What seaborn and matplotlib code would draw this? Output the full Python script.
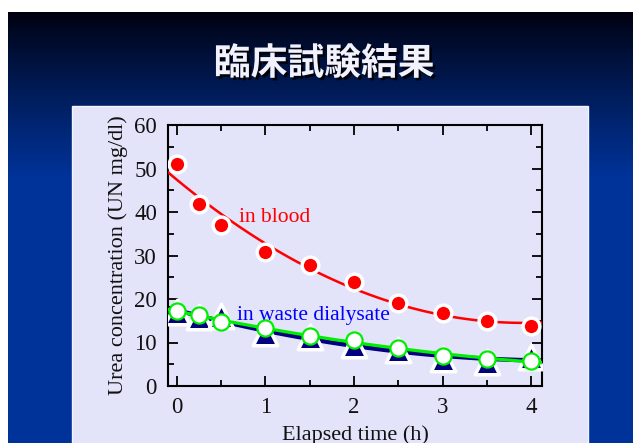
import numpy as np
import matplotlib
matplotlib.use('Agg')
import matplotlib.pyplot as plt
import matplotlib.patheffects as pe
from matplotlib.patches import Rectangle, Arc
from matplotlib.ticker import MultipleLocator
import seaborn as sns

# values
time_h = [0, 0.25, 0.5, 1, 1.5, 2, 2.5, 3, 3.5, 4]
urea_blood = [51.0, 41.9, 36.9, 30.8, 27.9, 23.9, 19.0, 16.8, 14.9, 13.8]
urea_waste_tri = [17.0, 15.8, 16.0, 12.2, 11.2, 9.4, 8.2, 6.3, 5.6, 6.6]
urea_waste_circ = [17.2, 16.4, 14.7, 13.4, 11.5, 10.5, 8.8, 6.8, 6.3, 5.8]
x_ticks = [0, 1, 2, 3, 4]
y_ticks = [0, 10, 20, 30, 40, 50, 60]

sns.set_style('ticks')
plt.rcParams['font.family'] = ['Liberation Serif', 'DejaVu Serif']

W, H = 633, 443
fig = plt.figure(figsize=(W / 100, H / 100), dpi=100)

# slide background: black -> blue gradient, white margin top/left
bg = fig.add_axes([0, 0, 1, 1], zorder=-5)
rows = np.arange(H, dtype=float)
t = np.clip((rows - 12) / 165.0, 0, 1) ** 0.85
top = np.array([0.0, 0.0, 0.05])
bot = np.array([0.0, 0.2, 0.6])
col = top[None, :] * (1 - t[:, None]) + bot[None, :] * t[:, None]
img = np.repeat(col[:, None, :], W, axis=1)
img[:12, :, :] = 1.0
img[:, :8, :] = 1.0
bg.imshow(img, extent=[0, W, H, 0], aspect='auto', interpolation='bilinear')
bg.add_patch(Arc((700, 420), 260, 150, angle=-15, theta1=120, theta2=200,
                 color='#0a2c85', lw=9, alpha=0.8))
bg.add_patch(Rectangle((72, 106), 516, 340, facecolor='#e3e3f9',
                       edgecolor='#f4f4ff', lw=1))
bg.set_xlim(0, W)
bg.set_ylim(H, 0)
bg.axis('off')

fig.text(324 / W, 1 - 64 / H, '臨床試験結果', fontsize=26.5, fontweight='bold',
         color='#f2f2ff', ha='center', va='center',
         family=['Noto Sans CJK JP', 'DejaVu Sans'],
         path_effects=[pe.withSimplePatchShadow(offset=(1.8, -1.8),
                                                shadow_rgbFace='black', alpha=0.9)])

ax = fig.add_axes([168 / W, 1 - 386 / H, (542 - 168) / W, (386 - 125) / H])
ax.set_facecolor('none')
ax.set_xlim(-0.1, 4.12)
ax.set_ylim(0, 60)

# fitted curves
sns.regplot(x=time_h, y=urea_waste_tri, order=2, ci=None, truncate=False,
            scatter=False, color='#000080', line_kws=dict(lw=3.2, zorder=2), ax=ax)
sns.regplot(x=time_h, y=urea_waste_circ, order=2, ci=None, truncate=False,
            scatter=False, color='#00ee00', line_kws=dict(lw=2.3, zorder=4), ax=ax)
sns.regplot(x=time_h, y=urea_blood, order=2, ci=None, truncate=False,
            scatter=False, color='#ff0000', line_kws=dict(lw=1.8, zorder=6), ax=ax)

# measured points
sns.scatterplot(x=time_h, y=urea_waste_tri, marker='^', s=310, color='#000080',
                edgecolor='white', linewidth=2.5, zorder=3, ax=ax, legend=False)
sns.scatterplot(x=time_h, y=urea_waste_circ, marker='o', s=135, color='white',
                edgecolor='#00ee00', linewidth=1.6, zorder=5, ax=ax, legend=False)
sns.scatterplot(x=time_h, y=urea_blood, marker='o', s=145, color='#ff0000',
                edgecolor='white', linewidth=2.5, zorder=7, ax=ax, legend=False)
ax.set_xlim(-0.1, 4.12)
ax.set_ylim(0, 60)

ax.text(0.7, 38.8, 'in blood', color='#ff0000', fontsize=15.5, va='center', zorder=8)
ax.text(0.68, 16.3, 'in waste dialysate', color='#0000ff', fontsize=15.5,
        va='center', zorder=8)

ax.set_xticks(x_ticks)
ax.set_yticks(y_ticks)
ax.xaxis.set_minor_locator(MultipleLocator(0.5))
ax.yaxis.set_minor_locator(MultipleLocator(5))
ax.tick_params(which='both', direction='in', top=True, right=True,
               width=1.3, color='black', labelsize=16.5, labelcolor='#111111')
ax.tick_params(which='major', length=7.5, pad=8)
ax.tick_params(which='minor', length=4.5)
for s in ax.spines.values():
    s.set_visible(True)
    s.set_linewidth(1.5)
    s.set_color('black')

ax.set_xlabel('Elapsed time (h)', fontsize=16, color='#111111', labelpad=5)
ax.set_ylabel('Urea concentration (UN mg/dl)', fontsize=16, color='#111111',
              labelpad=4)

fig.savefig('out.png', dpi=100)
